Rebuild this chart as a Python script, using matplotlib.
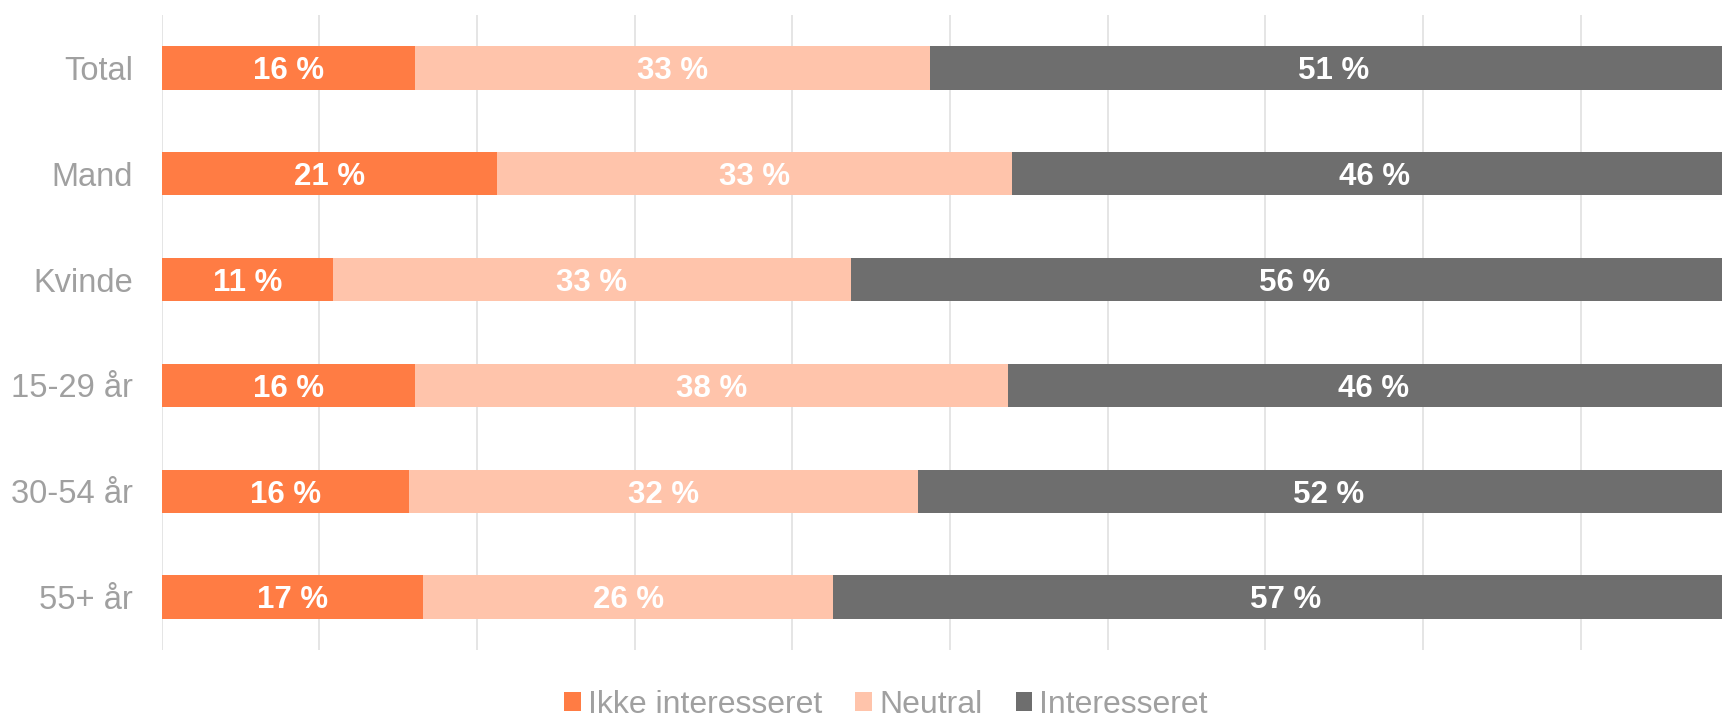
import matplotlib
matplotlib.use("Agg")
import matplotlib.pyplot as plt
from matplotlib.patches import Patch
import numpy as np

categories = ["Total", "Mand", "Kvinde", "15-29 år", "30-54 år", "55+ år"]
ikke = [16.1, 21.3, 10.9, 16.1, 15.7, 16.6]
neutral = [32.6, 32.6, 32.8, 37.6, 32.3, 26.0]
interesseret = [51.3, 46.1, 56.3, 46.3, 52.0, 57.4]
series_names = ["Ikke interesseret", "Neutral", "Interesseret"]
colors = ["#FF7C44", "#FFC4AB", "#6E6E6E"]

plt.rcParams['font.family'] = ['Liberation Sans', 'DejaVu Sans']

W, H = 1722, 717
fig = plt.figure(figsize=(W / 100, H / 100), dpi=100)
ax = fig.add_axes([161.5 / W, (H - 650) / H, (W - 161.5) / W, 635 / H])

LBL = 22.5
y = np.arange(len(categories))
left = np.zeros(len(categories))
for vals, col in zip([ikke, neutral, interesseret], colors):
    vals = np.array(vals)
    ax.barh(y, vals, left=left, height=0.41, color=col, zorder=2)
    for yi, l, v in zip(y, left, vals):
        ax.annotate(f"{v:.0f} %", (l + v / 2, yi), xytext=(0, -0.36 * LBL),
                    textcoords="offset points", ha="center", va="baseline",
                    color="white", fontsize=LBL, fontweight="bold", zorder=3,
                    annotation_clip=False)
    left = left + vals

ax.set_xlim(0, 98.95)
ax.set_ylim(len(categories) - 0.5, -0.5)
ax.set_xticks(np.arange(0, 100, 10))
ax.set_xticklabels([])
ax.grid(axis="x", color="#E3E3E3", linewidth=1.3, zorder=0)
ax.set_yticks(y)
ax.set_yticklabels(categories, fontsize=23.5, color="#A0A0A0")
ax.tick_params(axis="both", length=0)
ax.tick_params(axis="y", pad=20.5)
for s in ax.spines.values():
    s.set_visible(False)

handles = [Patch(facecolor=c, edgecolor="none") for c in colors]
fig.legend(handles, series_names, loc="center", bbox_to_anchor=(886 / W, 1 - 705 / H),
           ncol=3, frameon=False, fontsize=23, labelcolor="#A0A0A0",
           handlelength=0.52, handleheight=0.52, handletextpad=0.22,
           columnspacing=1.05, borderpad=0)

fig.savefig("out.png", dpi=100)
